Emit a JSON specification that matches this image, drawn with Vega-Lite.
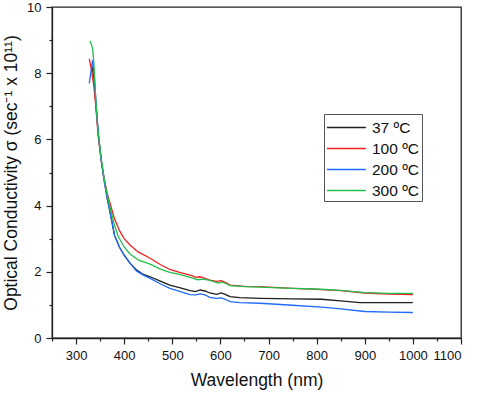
{
  "$schema": "https://vega.github.io/schema/vega-lite/v6.json",
  "width": 409,
  "height": 331,
  "autosize": {"type": "none"},
  "padding": {"left": 52, "top": 7, "right": 19, "bottom": 55},
  "background": "white",
  "config": {
    "view": {"stroke": "#222222", "strokeWidth": 1.3},
    "font": "Liberation Sans",
    "axis": {
      "domainColor": "#222222",
      "domainWidth": 1.3,
      "tickColor": "#222222",
      "tickWidth": 1.2,
      "labelColor": "#111111",
      "labelFontSize": 13,
      "labelFont": "Liberation Sans",
      "labelOverlap": false,
      "titleFont": "Liberation Sans",
      "titleFontSize": 17.5,
      "titleFontWeight": "normal",
      "titleColor": "#111111",
      "grid": false
    }
  },
  "data": {
    "values": [
      {"s": "37 ºC", "nm": 333, "v": 8.2}, {"s": "37 ºC", "nm": 337, "v": 7.9}, {"s": "37 ºC", "nm": 341, "v": 7.1}, {"s": "37 ºC", "nm": 346, "v": 6.2}, {"s": "37 ºC", "nm": 352, "v": 5.4}, {"s": "37 ºC", "nm": 358, "v": 4.8}, {"s": "37 ºC", "nm": 365, "v": 4.2}, {"s": "37 ºC", "nm": 370, "v": 3.85}, {"s": "37 ºC", "nm": 380, "v": 3.1}, {"s": "37 ºC", "nm": 390, "v": 2.75}, {"s": "37 ºC", "nm": 400, "v": 2.5}, {"s": "37 ºC", "nm": 412, "v": 2.26}, {"s": "37 ºC", "nm": 426, "v": 2.05}, {"s": "37 ºC", "nm": 440, "v": 1.92}, {"s": "37 ºC", "nm": 454, "v": 1.85}, {"s": "37 ºC", "nm": 475, "v": 1.72}, {"s": "37 ºC", "nm": 495, "v": 1.6}, {"s": "37 ºC", "nm": 515, "v": 1.52}, {"s": "37 ºC", "nm": 537, "v": 1.43}, {"s": "37 ºC", "nm": 548, "v": 1.4}, {"s": "37 ºC", "nm": 558, "v": 1.45}, {"s": "37 ºC", "nm": 568, "v": 1.42}, {"s": "37 ºC", "nm": 578, "v": 1.36}, {"s": "37 ºC", "nm": 592, "v": 1.32}, {"s": "37 ºC", "nm": 602, "v": 1.36}, {"s": "37 ºC", "nm": 610, "v": 1.32}, {"s": "37 ºC", "nm": 620, "v": 1.25}, {"s": "37 ºC", "nm": 640, "v": 1.22}, {"s": "37 ºC", "nm": 682, "v": 1.2}, {"s": "37 ºC", "nm": 750, "v": 1.18}, {"s": "37 ºC", "nm": 810, "v": 1.17}, {"s": "37 ºC", "nm": 850, "v": 1.12}, {"s": "37 ºC", "nm": 890, "v": 1.07}, {"s": "37 ºC", "nm": 950, "v": 1.07}, {"s": "37 ºC", "nm": 1000, "v": 1.07},

      {"s": "100 ºC", "nm": 327.5, "v": 8.43}, {"s": "100 ºC", "nm": 332, "v": 8.1}, {"s": "100 ºC", "nm": 337, "v": 7.6}, {"s": "100 ºC", "nm": 341, "v": 7.0}, {"s": "100 ºC", "nm": 346, "v": 6.1}, {"s": "100 ºC", "nm": 352, "v": 5.4}, {"s": "100 ºC", "nm": 358, "v": 4.85}, {"s": "100 ºC", "nm": 365, "v": 4.35}, {"s": "100 ºC", "nm": 370.5, "v": 4.07}, {"s": "100 ºC", "nm": 380, "v": 3.6}, {"s": "100 ºC", "nm": 390, "v": 3.25}, {"s": "100 ºC", "nm": 400, "v": 3.0}, {"s": "100 ºC", "nm": 412, "v": 2.81}, {"s": "100 ºC", "nm": 429, "v": 2.6}, {"s": "100 ºC", "nm": 454, "v": 2.41}, {"s": "100 ºC", "nm": 475, "v": 2.22}, {"s": "100 ºC", "nm": 495, "v": 2.07}, {"s": "100 ºC", "nm": 515, "v": 1.98}, {"s": "100 ºC", "nm": 537, "v": 1.9}, {"s": "100 ºC", "nm": 550, "v": 1.83}, {"s": "100 ºC", "nm": 557, "v": 1.85}, {"s": "100 ºC", "nm": 565, "v": 1.82}, {"s": "100 ºC", "nm": 578, "v": 1.75}, {"s": "100 ºC", "nm": 592, "v": 1.71}, {"s": "100 ºC", "nm": 602, "v": 1.73}, {"s": "100 ºC", "nm": 610, "v": 1.68}, {"s": "100 ºC", "nm": 620, "v": 1.6}, {"s": "100 ºC", "nm": 650, "v": 1.56}, {"s": "100 ºC", "nm": 682, "v": 1.55}, {"s": "100 ºC", "nm": 750, "v": 1.5}, {"s": "100 ºC", "nm": 800, "v": 1.47}, {"s": "100 ºC", "nm": 850, "v": 1.43}, {"s": "100 ºC", "nm": 900, "v": 1.36}, {"s": "100 ºC", "nm": 950, "v": 1.33}, {"s": "100 ºC", "nm": 1000, "v": 1.31},

      {"s": "200 ºC", "nm": 327.5, "v": 7.69}, {"s": "200 ºC", "nm": 334.5, "v": 8.4}, {"s": "200 ºC", "nm": 338, "v": 7.9}, {"s": "200 ºC", "nm": 341, "v": 7.2}, {"s": "200 ºC", "nm": 346, "v": 6.2}, {"s": "200 ºC", "nm": 352, "v": 5.4}, {"s": "200 ºC", "nm": 358, "v": 4.8}, {"s": "200 ºC", "nm": 365, "v": 4.2}, {"s": "200 ºC", "nm": 370, "v": 3.85}, {"s": "200 ºC", "nm": 380, "v": 3.1}, {"s": "200 ºC", "nm": 390, "v": 2.75}, {"s": "200 ºC", "nm": 400, "v": 2.5}, {"s": "200 ºC", "nm": 412, "v": 2.26}, {"s": "200 ºC", "nm": 426, "v": 2.02}, {"s": "200 ºC", "nm": 440, "v": 1.9}, {"s": "200 ºC", "nm": 454, "v": 1.8}, {"s": "200 ºC", "nm": 475, "v": 1.64}, {"s": "200 ºC", "nm": 495, "v": 1.5}, {"s": "200 ºC", "nm": 515, "v": 1.41}, {"s": "200 ºC", "nm": 537, "v": 1.31}, {"s": "200 ºC", "nm": 548, "v": 1.3}, {"s": "200 ºC", "nm": 558, "v": 1.33}, {"s": "200 ºC", "nm": 568, "v": 1.3}, {"s": "200 ºC", "nm": 578, "v": 1.23}, {"s": "200 ºC", "nm": 592, "v": 1.2}, {"s": "200 ºC", "nm": 602, "v": 1.21}, {"s": "200 ºC", "nm": 610, "v": 1.17}, {"s": "200 ºC", "nm": 620, "v": 1.1}, {"s": "200 ºC", "nm": 640, "v": 1.07}, {"s": "200 ºC", "nm": 682, "v": 1.05}, {"s": "200 ºC", "nm": 750, "v": 0.99}, {"s": "200 ºC", "nm": 810, "v": 0.93}, {"s": "200 ºC", "nm": 850, "v": 0.88}, {"s": "200 ºC", "nm": 900, "v": 0.8}, {"s": "200 ºC", "nm": 950, "v": 0.78}, {"s": "200 ºC", "nm": 1000, "v": 0.77},

      {"s": "300 ºC", "nm": 329, "v": 8.97}, {"s": "300 ºC", "nm": 334.5, "v": 8.75}, {"s": "300 ºC", "nm": 337, "v": 8.3}, {"s": "300 ºC", "nm": 341, "v": 7.2}, {"s": "300 ºC", "nm": 346, "v": 6.2}, {"s": "300 ºC", "nm": 352, "v": 5.45}, {"s": "300 ºC", "nm": 358, "v": 4.85}, {"s": "300 ºC", "nm": 365, "v": 4.3}, {"s": "300 ºC", "nm": 370, "v": 3.98}, {"s": "300 ºC", "nm": 380, "v": 3.4}, {"s": "300 ºC", "nm": 388, "v": 3.06}, {"s": "300 ºC", "nm": 400, "v": 2.75}, {"s": "300 ºC", "nm": 412, "v": 2.54}, {"s": "300 ºC", "nm": 430, "v": 2.35}, {"s": "300 ºC", "nm": 454, "v": 2.23}, {"s": "300 ºC", "nm": 475, "v": 2.08}, {"s": "300 ºC", "nm": 495, "v": 1.98}, {"s": "300 ºC", "nm": 515, "v": 1.92}, {"s": "300 ºC", "nm": 537, "v": 1.83}, {"s": "300 ºC", "nm": 553, "v": 1.76}, {"s": "300 ºC", "nm": 565, "v": 1.78}, {"s": "300 ºC", "nm": 578, "v": 1.74}, {"s": "300 ºC", "nm": 595, "v": 1.66}, {"s": "300 ºC", "nm": 604, "v": 1.69}, {"s": "300 ºC", "nm": 612, "v": 1.64}, {"s": "300 ºC", "nm": 620, "v": 1.58}, {"s": "300 ºC", "nm": 650, "v": 1.55}, {"s": "300 ºC", "nm": 682, "v": 1.54}, {"s": "300 ºC", "nm": 750, "v": 1.5}, {"s": "300 ºC", "nm": 800, "v": 1.48}, {"s": "300 ºC", "nm": 850, "v": 1.44}, {"s": "300 ºC", "nm": 900, "v": 1.37}, {"s": "300 ºC", "nm": 950, "v": 1.35}, {"s": "300 ºC", "nm": 1000, "v": 1.35}
    ]
  },
  "mark": {"type": "line", "strokeWidth": 1.3, "clip": true},
  "encoding": {
    "x": {
      "field": "nm",
      "type": "quantitative",
      "scale": {"domain": [250, 1100], "nice": false, "zero": false},
      "axis": {
        "title": "Wavelength (nm)",
        "format": "d",
        "values": [250, 300, 350, 400, 450, 500, 550, 600, 650, 700, 750, 800, 850, 900, 950, 1000, 1050, 1100],
        "labelExpr": "datum.value % 100 === 0 ? datum.label : ''",
        "tickSize": {"condition": {"test": "datum.value % 100 === 0", "value": 6}, "value": 3},
        "labelPadding": 5,
        "titlePadding": 9
      }
    },
    "y": {
      "field": "v",
      "type": "quantitative",
      "scale": {"domain": [0, 10], "nice": false},
      "axis": {
        "title": "Optical Conductivity σ (sec⁻¹ x 10¹¹)",
        "values": [0, 1, 2, 3, 4, 5, 6, 7, 8, 9, 10],
        "labelExpr": "datum.value % 2 === 0 ? datum.label : ''",
        "tickSize": {"condition": {"test": "datum.value % 2 === 0", "value": 6}, "value": 3},
        "labelPadding": 5,
        "titlePadding": 6
      }
    },
    "color": {
      "field": "s",
      "type": "nominal",
      "scale": {
        "domain": ["37 ºC", "100 ºC", "200 ºC", "300 ºC"],
        "range": ["#1e1e1e", "#f02020", "#1f6bff", "#22bf4c"]
      },
      "legend": {
        "title": null,
        "orient": "none",
        "legendX": 272,
        "legendY": 107,
        "strokeColor": "#555555",
        "padding": 2,
        "symbolType": "M-1,0H2.7",
        "symbolSize": 441,
        "symbolStrokeWidth": 1.5,
        "labelFontSize": 15.5,
        "labelFont": "Liberation Sans",
        "labelColor": "#111111",
        "rowPadding": 1,
        "labelOffset": 23
      }
    }
  }
}
